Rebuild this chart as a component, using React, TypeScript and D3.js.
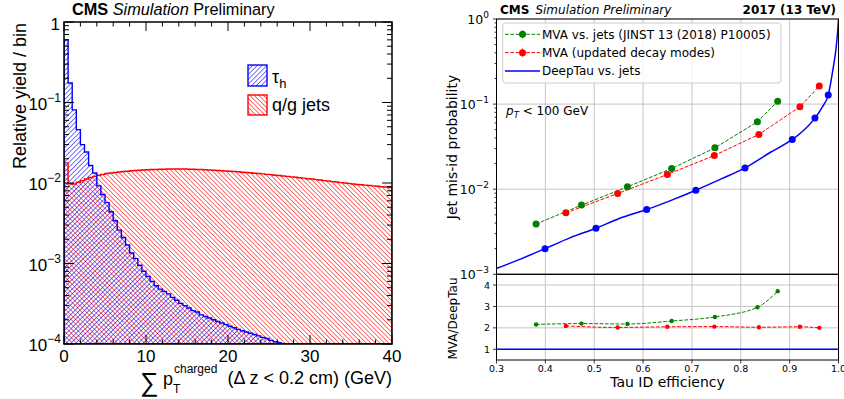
import React from 'react';
import * as d3 from 'd3';

const W = 844;
const H = 399;

// ---------------- Left panel data ----------------
const binWidthGeV = 0.5;
const leftXTicks = [0, 10, 20, 30, 40];
const leftYTicks = [1e-4, 1e-3, 1e-2, 1e-1, 1];
const tauYield = [
  0.6, 0.175, 0.081, 0.046, 0.030, 0.0243, 0.0165, 0.0133, 0.0092, 0.0072,
  0.0057, 0.0044, 0.0034, 0.0026, 0.0021, 0.0017, 0.00135, 0.00115, 0.00095, 0.0008,
  0.00069, 0.0006, 0.00053, 0.00048, 0.00045, 0.00042, 0.00038, 0.00035, 0.00032, 0.0003,
  0.00028, 0.00026, 0.00025, 0.00023, 0.00022, 0.00021, 0.0002, 0.00019, 0.000182, 0.000175,
  0.000166, 0.000159, 0.000152, 0.000146, 0.000141, 0.000136, 0.000131, 0.000126, 0.000121, 0.000117,
  0.000111, 0.000107, 0.000104, 0.000101, 0.0000995, 0.000096, 0.000093, 0.00009, 0.000087, 0.000085,
  0.000082, 0.00008, 0.000078, 0.000076, 0.000074, 0.000072, 0.00007, 0.000068, 0.000066, 0.000065,
  0.000063, 0.000062, 0.00006, 0.000059, 0.000057, 0.000056, 0.000055, 0.000054, 0.000052, 0.000051,
];
const jetYield = [
  0.0178, 0.0098, 0.0097, 0.0102, 0.0107, 0.0112, 0.0117, 0.0121, 0.0125, 0.0128,
  0.0131, 0.0133, 0.0135, 0.0137, 0.0139, 0.014, 0.0142, 0.0143, 0.0144, 0.0145,
  0.0146, 0.0147, 0.0147, 0.0148, 0.0148, 0.0149, 0.0149, 0.0149, 0.0149, 0.0149,
  0.0148, 0.0148, 0.0147, 0.0147, 0.0146, 0.0145, 0.0144, 0.0143, 0.0142, 0.0141,
  0.014, 0.0139, 0.0138, 0.0136, 0.0135, 0.0134, 0.0132, 0.0131, 0.013, 0.0128,
  0.0127, 0.0125, 0.0124, 0.0122, 0.0121, 0.0119, 0.0118, 0.0116, 0.0115, 0.0113,
  0.0112, 0.011, 0.0109, 0.0107, 0.0106, 0.0104, 0.0103, 0.0101, 0.01, 0.0099,
  0.0097, 0.0096, 0.0095, 0.0094, 0.0093, 0.0092, 0.0091, 0.009, 0.0089, 0.0088,
];
const leftSupers = ['−4', '−3', '−2', '−1', ''];

// ---------------- Right panel data ----------------
const effTicks = [0.3, 0.4, 0.5, 0.6, 0.7, 0.8, 0.9, 1.0];
const fakeTicks = [1e-3, 1e-2, 1e-1, 1];
const fakeSupers = ['−3', '−2', '−1', '0'];
const ratioTicks = [1, 2, 3, 4];

const mvaOldEff = [0.381, 0.474, 0.568, 0.6585, 0.747, 0.834, 0.8755];
const mvaOldFake = [0.0039, 0.0065, 0.01065, 0.0175, 0.0306, 0.062, 0.108];
const mvaOldRatio = [2.16, 2.2, 2.18, 2.32, 2.51, 2.96, 3.71];

const mvaNewEff = [0.442, 0.548, 0.6496, 0.7458, 0.837, 0.921, 0.9607];
const mvaNewFake = [0.00527, 0.0089, 0.0149, 0.0249, 0.044, 0.093, 0.163];
const mvaNewRatio = [2.09, 2.02, 2.05, 2.06, 2.03, 2.05, 2.0];

const deepEff = [0.3993, 0.5036, 0.6074, 0.708, 0.8086, 0.9054, 0.9518, 0.979];
const deepFake = [0.002, 0.00348, 0.00577, 0.00973, 0.0178, 0.0384, 0.0685, 0.1277];
const deepCurveEff = [0.3, 0.35, 0.3993, 0.45, 0.5036, 0.55, 0.6074, 0.66, 0.708, 0.76, 0.8086, 0.86, 0.9054, 0.93, 0.9518, 0.967, 0.979, 0.9893, 0.995, 0.998, 1.0];
const deepCurveFake = [0.00117, 0.00152, 0.002, 0.00268, 0.00348, 0.0045, 0.00577, 0.0075, 0.00973, 0.0132, 0.0178, 0.027, 0.0384, 0.05, 0.0685, 0.093, 0.1277, 0.27, 0.45, 0.68, 1.0];
const deepRatioEff = [0.3, 1.0];
const deepRatio = [1, 1];

const legendLabels = ['MVA vs. jets (JINST 13 (2018) P10005)', 'MVA (updated decay modes)', 'DeepTau vs. jets'];

export default function App() {
  // ---------- left scales ----------
  const lx = d3.scaleLinear().domain([0, 40]).range([64, 392]);
  const ly = d3.scaleLog().domain([1e-4, 1]).range([344, 22]);
  const lyMin = 1e-4;

  const histPath = (vals: number[]) => {
    const y0 = ly(lyMin);
    let p = `M${lx(0)},${y0}`;
    vals.forEach((v, i) => {
      const y = ly(Math.max(v, lyMin));
      p += `L${lx(i * binWidthGeV)},${y}L${lx((i + 1) * binWidthGeV)},${y}`;
    });
    p += `L${lx(vals.length * binWidthGeV)},${y0}Z`;
    return p;
  };

  const lMinorX = d3.range(0, 40.001, 2).filter((v) => v % 10 !== 0);
  const lMinorY: number[] = [];
  for (let e = -4; e < 0; e++) for (let k = 2; k <= 9; k++) lMinorY.push(k * Math.pow(10, e));

  // ---------- right scales ----------
  const rx = d3.scaleLinear().domain([0.3, 1.0]).range([496.5, 838.5]);
  const ry = d3.scaleLog().domain([1e-3, 1]).range([274.3, 19]);
  const rr = d3.scaleLinear().domain([0.5, 4.5]).range([360, 274.3]);
  const rMinorY: number[] = [];
  for (let e = -3; e < 0; e++) for (let k = 2; k <= 9; k++) rMinorY.push(k * Math.pow(10, e));

  const lineMain = (xs: number[], ys: number[], curve: any) =>
    d3.line<number>().x((_, i) => rx(xs[i])).y((_, i) => ry(ys[i])).curve(curve)(xs) || '';
  const lineRatio = (xs: number[], ys: number[], curve: any) =>
    d3.line<number>().x((_, i) => rx(xs[i])).y((_, i) => rr(ys[i])).curve(curve)(xs) || '';

  const rootFont = '"Liberation Sans", Arial, sans-serif';
  const mplFont = '"DejaVu Sans", sans-serif';
  const grid = '#c4c4c4';

  const legendColors = ['green', 'red', 'blue'];

  return (
    <div style={{ position: 'absolute', left: 0, top: 0 }}>
      <svg width={W} height={H} style={{ display: 'block', background: '#fff' }}>
        <defs>
          <pattern id="hatchRed" patternUnits="userSpaceOnUse" width="3.2" height="3.2" patternTransform="rotate(-45)">
            <line x1="0" y1="0" x2="0" y2="3.2" stroke="#ff0000" strokeWidth="1.1" />
          </pattern>
          <pattern id="hatchBlue" patternUnits="userSpaceOnUse" width="3.4" height="3.4" patternTransform="rotate(45)">
            <line x1="0" y1="0" x2="0" y2="3.4" stroke="#0000ff" strokeWidth="1.1" />
          </pattern>
          <clipPath id="leftClip">
            <rect x={lx(0)} y={ly(1)} width={lx(40) - lx(0)} height={ly(1e-4) - ly(1)} />
          </clipPath>
          <clipPath id="rightMainClip">
            <rect x={rx(0.3)} y={ry(1)} width={rx(1) - rx(0.3)} height={ry(1e-3) - ry(1)} />
          </clipPath>
          <clipPath id="rightRatioClip">
            <rect x={rx(0.3)} y={rr(4.5)} width={rx(1) - rx(0.3)} height={rr(0.5) - rr(4.5)} />
          </clipPath>
        </defs>

        {/* ================= LEFT PANEL ================= */}
        <g clipPath="url(#leftClip)">
          <path d={histPath(jetYield)} fill="url(#hatchRed)" stroke="none" />
          <path d={histPath(tauYield)} fill="url(#hatchBlue)" stroke="none" />
          <path d={histPath(jetYield)} fill="none" stroke="#ff0000" strokeWidth={1.4} />
          <path d={histPath(tauYield)} fill="none" stroke="#0000ff" strokeWidth={1.4} />
        </g>
        {/* ticks */}
        <g stroke="#000" strokeWidth={1}>
          {leftXTicks.map((t) => (
            <g key={'lxt' + t}>
              <line x1={lx(t)} x2={lx(t)} y1={ly(1e-4)} y2={ly(1e-4) - 9} />
              <line x1={lx(t)} x2={lx(t)} y1={ly(1)} y2={ly(1) + 9} />
            </g>
          ))}
          {lMinorX.map((t) => (
            <g key={'lxm' + t}>
              <line x1={lx(t)} x2={lx(t)} y1={ly(1e-4)} y2={ly(1e-4) - 4.5} />
              <line x1={lx(t)} x2={lx(t)} y1={ly(1)} y2={ly(1) + 4.5} />
            </g>
          ))}
          {leftYTicks.map((t) => (
            <g key={'lyt' + t}>
              <line x1={lx(0)} x2={lx(0) + 10} y1={ly(t)} y2={ly(t)} />
              <line x1={lx(40)} x2={lx(40) - 10} y1={ly(t)} y2={ly(t)} />
            </g>
          ))}
          {lMinorY.map((t) => (
            <g key={'lym' + t}>
              <line x1={lx(0)} x2={lx(0) + 5} y1={ly(t)} y2={ly(t)} />
              <line x1={lx(40)} x2={lx(40) - 5} y1={ly(t)} y2={ly(t)} />
            </g>
          ))}
        </g>
        <rect x={lx(0)} y={ly(1)} width={lx(40) - lx(0)} height={ly(1e-4) - ly(1)} fill="none" stroke="#000" strokeWidth={1.5} />

        {/* left tick labels */}
        <g fontFamily={rootFont} fontSize={17} fill="#000">
          {leftXTicks.map((t) => (
            <text key={'lxl' + t} x={lx(t)} y={362} textAnchor="middle">{t}</text>
          ))}
          {leftYTicks.map((t, i) => (
            leftSupers[i] === '' ? (
              <text key={'lyl' + t} x={60} y={ly(t) + 8} textAnchor="end">1</text>
            ) : (
              <text key={'lyl' + t} x={61} y={ly(t) + 7} textAnchor="end">
                10<tspan fontSize={12} dy={-8}>{leftSupers[i]}</tspan>
              </text>
            )
          ))}
        </g>
        {/* left titles */}
        <text x={72} y={15} fontFamily={rootFont} fontSize={16.3} fill="#000">
          <tspan fontWeight="bold">CMS</tspan>
          <tspan fontStyle="italic"> Simulation</tspan>
          <tspan> Preliminary</tspan>
        </text>
        <text transform={`translate(26,96) rotate(-90)`} textAnchor="middle" fontFamily={rootFont} fontSize={18} fill="#000">
          Relative yield / bin
        </text>
        <g fontFamily={rootFont} fill="#000">
          <text x={140} y={391} fontSize={26}>∑</text>
          <text x={163} y={385} fontSize={18}>p</text>
          <text x={173} y={393} fontSize={12}>T</text>
          <text x={174} y={373} fontSize={12}>charged</text>
          <text x={392} y={384} fontSize={18} textAnchor="end">(Δ z &lt; 0.2 cm) (GeV)</text>
        </g>
        {/* left legend */}
        <rect x={248} y={65} width={19} height={21} fill="url(#hatchBlue)" stroke="#0000ff" strokeWidth={1.4} />
        <rect x={248} y={95} width={19} height={20} fill="url(#hatchRed)" stroke="#ff0000" strokeWidth={1.4} />
        <text x={272} y={83} fontFamily={rootFont} fontSize={18} fill="#000">
          τ<tspan fontSize={13} dy={5}>h</tspan>
        </text>
        <text x={272} y={111} fontFamily={rootFont} fontSize={18} fill="#000">q/g jets</text>

        {/* ================= RIGHT PANEL ================= */}
        {/* grids */}
        <g stroke={grid} strokeWidth={1}>
          {effTicks.map((t) => (
            <g key={'rg' + t}>
              <line x1={rx(t)} x2={rx(t)} y1={ry(1)} y2={ry(1e-3)} />
              <line x1={rx(t)} x2={rx(t)} y1={rr(4.5)} y2={rr(0.5)} />
            </g>
          ))}
          {fakeTicks.map((t) => (
            <line key={'rgy' + t} x1={rx(0.3)} x2={rx(1)} y1={ry(t)} y2={ry(t)} />
          ))}
          {ratioTicks.map((t) => (
            <line key={'rgr' + t} x1={rx(0.3)} x2={rx(1)} y1={rr(t)} y2={rr(t)} />
          ))}
        </g>

        {/* main curves */}
        <g clipPath="url(#rightMainClip)">
          <path d={lineMain(deepCurveEff, deepCurveFake, d3.curveMonotoneX)} fill="none" stroke="blue" strokeWidth={1.5} />
          <path d={lineMain(mvaOldEff, mvaOldFake, d3.curveLinear)} fill="none" stroke="green" strokeWidth={1} strokeDasharray="3.7,1.6" />
          <path d={lineMain(mvaNewEff, mvaNewFake, d3.curveLinear)} fill="none" stroke="red" strokeWidth={1} strokeDasharray="3.7,1.6" />
          {deepEff.map((e, i) => <circle key={'dp' + i} cx={rx(e)} cy={ry(deepFake[i])} r={3.5} fill="blue" />)}
          {mvaOldEff.map((e, i) => <circle key={'op' + i} cx={rx(e)} cy={ry(mvaOldFake[i])} r={3.5} fill="green" />)}
          {mvaNewEff.map((e, i) => <circle key={'np' + i} cx={rx(e)} cy={ry(mvaNewFake[i])} r={3.5} fill="red" />)}
        </g>
        {/* ratio curves */}
        <g clipPath="url(#rightRatioClip)">
          <path d={lineRatio(deepRatioEff, deepRatio, d3.curveLinear)} fill="none" stroke="blue" strokeWidth={1.5} />
          <path d={lineRatio(mvaOldEff, mvaOldRatio, d3.curveMonotoneX)} fill="none" stroke="green" strokeWidth={1} strokeDasharray="3.7,1.6" />
          <path d={lineRatio(mvaNewEff, mvaNewRatio, d3.curveMonotoneX)} fill="none" stroke="red" strokeWidth={1} strokeDasharray="3.7,1.6" />
          {mvaOldEff.map((e, i) => <circle key={'or' + i} cx={rx(e)} cy={rr(mvaOldRatio[i])} r={2.2} fill="green" />)}
          {mvaNewEff.map((e, i) => <circle key={'nr' + i} cx={rx(e)} cy={rr(mvaNewRatio[i])} r={2.2} fill="red" />)}
        </g>

        {/* right frames */}
        <rect x={rx(0.3)} y={ry(1)} width={rx(1) - rx(0.3)} height={ry(1e-3) - ry(1)} fill="none" stroke="#000" strokeWidth={1} />
        <rect x={rx(0.3)} y={rr(4.5)} width={rx(1) - rx(0.3)} height={rr(0.5) - rr(4.5)} fill="none" stroke="#000" strokeWidth={1} />

        {/* right ticks */}
        <g stroke="#000" strokeWidth={0.8}>
          {fakeTicks.map((t) => <line key={'rt' + t} x1={rx(0.3)} x2={rx(0.3) - 3.5} y1={ry(t)} y2={ry(t)} />)}
          {rMinorY.map((t) => <line key={'rm' + t} x1={rx(0.3)} x2={rx(0.3) - 2} y1={ry(t)} y2={ry(t)} />)}
          {ratioTicks.map((t) => <line key={'rrt' + t} x1={rx(0.3)} x2={rx(0.3) - 3.5} y1={rr(t)} y2={rr(t)} />)}
          {effTicks.map((t) => <line key={'rxt' + t} x1={rx(t)} x2={rx(t)} y1={rr(0.5)} y2={rr(0.5) + 3.5} />)}
        </g>
        <g fontFamily={mplFont} fill="#000">
          {fakeTicks.map((t, i) => (
            <text key={'rtl' + t} x={489} y={ry(t) + 4.5} textAnchor="end" fontSize={12.5}>
              10<tspan fontSize={9} dy={-6}>{fakeSupers[i]}</tspan>
            </text>
          ))}
          {ratioTicks.map((t) => (
            <text key={'rrl' + t} x={490} y={rr(t) + 3.5} textAnchor="end" fontSize={9.5}>{t}</text>
          ))}
          {effTicks.map((t) => (
            <text key={'rxl' + t} x={rx(t)} y={372} textAnchor="middle" fontSize={9.5}>{t.toFixed(1)}</text>
          ))}
          <text x={rx(0.65)} y={387} textAnchor="middle" fontSize={14}>Tau ID efficiency</text>
          <text transform={`translate(457,147) rotate(-90)`} textAnchor="middle" fontSize={14}>Jet mis-id probability</text>
          <text transform={`translate(457,318.5) rotate(-90)`} textAnchor="middle" fontSize={12}>MVA/DeepTau</text>
          <text x={500} y={13.5} fontSize={12}>
            <tspan fontWeight="bold">CMS</tspan>
            <tspan fontStyle="italic" dx={6}>Simulation Preliminary</tspan>
          </text>
          <text x={836} y={13.5} fontSize={12} fontWeight="bold" textAnchor="end">2017 (13 TeV)</text>
          <text x={506} y={115} fontSize={12}>
            <tspan fontStyle="italic">p</tspan><tspan fontStyle="italic" fontSize={8.5} dy={3}>T</tspan><tspan dy={-3}> &lt; 100 GeV</tspan>
          </text>
        </g>

        {/* right legend */}
        <rect x={502.7} y={23} width={278.3} height={60} rx={3} fill="#fff" fillOpacity={0.8} stroke="#cccccc" strokeWidth={1} />
        {legendLabels.map((lab, i) => {
          const yy = 34.3 + i * 18.35;
          const c = legendColors[i];
          return (
            <g key={'leg' + i}>
              {i < 2 ? (
                <>
                  <line x1={505} x2={540} y1={yy} y2={yy} stroke={c} strokeWidth={1} strokeDasharray="3.7,1.6" />
                  <line x1={522.5} x2={522.5} y1={yy - 4} y2={yy + 4} stroke={c} strokeWidth={1} />
                  <circle cx={522.5} cy={yy} r={3.5} fill={c} />
                </>
              ) : (
                <line x1={505} x2={540} y1={yy} y2={yy} stroke={c} strokeWidth={1.5} />
              )}
              <text x={542} y={yy + 4.3} fontFamily={mplFont} fontSize={12} fill="#000">{lab}</text>
            </g>
          );
        })}
      </svg>
    </div>
  );
}
